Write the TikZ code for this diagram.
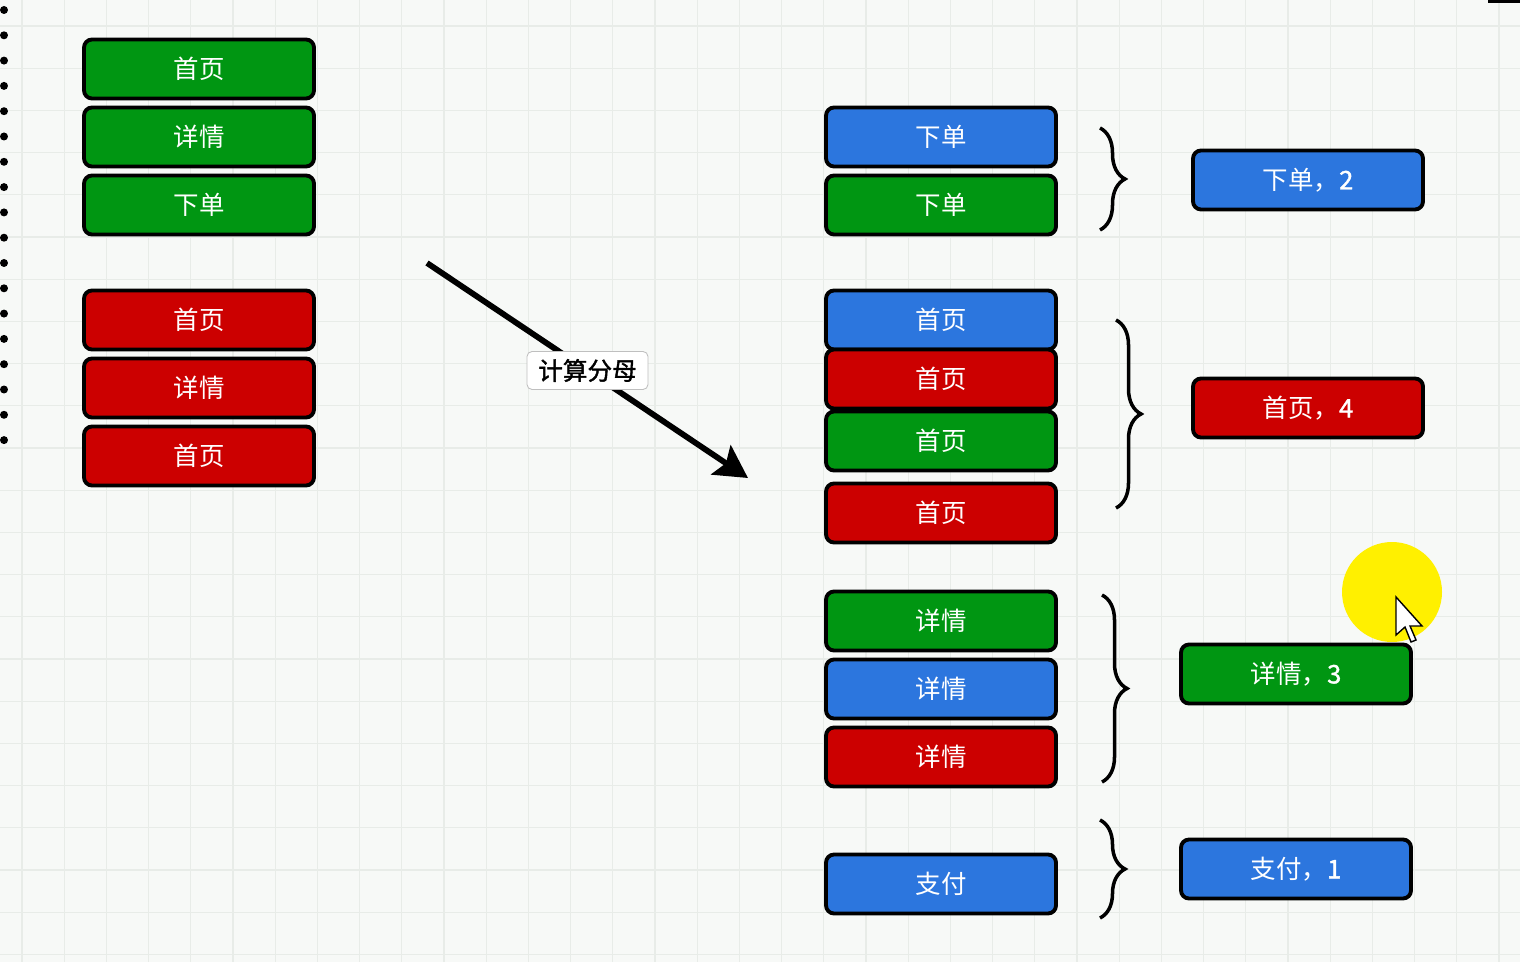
\documentclass[tikz,border=0pt]{standalone}
\usepackage{fontspec}
\newfontfamily\cjk{Noto Sans CJK SC}
\newfontfamily\cjkb[FakeBold=1.5]{Noto Sans CJK SC}
\usetikzlibrary{arrows.meta,decorations.pathreplacing}

\definecolor{boxgreen}{RGB}{0,150,18}
\definecolor{boxred}{RGB}{204,0,0}
\definecolor{boxblue}{RGB}{44,118,222}
\definecolor{paper}{RGB}{247,249,247}
\definecolor{gridgray}{RGB}{232,236,232}
\definecolor{hilite}{RGB}{255,240,0}

\tikzset{
  card/.style={draw=black, line width=2.2pt, rounded corners=0.16cm,
    minimum width=4.6cm, minimum height=1.18cm, inner sep=0pt,
    text=white, font=\cjk\fontsize{14.5}{17}\selectfont},
  gcard/.style={card, fill=boxgreen},
  rcard/.style={card, fill=boxred},
  bcard/.style={card, fill=boxblue},
  curly/.style={decorate, decoration={brace, amplitude=0.5cm}, line width=2pt},
  gridline/.style={draw=gridgray, line width=0.7pt},
}

\begin{document}
\begin{tikzpicture}[x=0.02cm, y=-0.02cm]
  % Paper and grid
  \useasboundingbox (0,0) rectangle (1520,962);
  \fill[paper] (0,0) rectangle (1520,962);
  \foreach \k in {0,...,35}
    \draw[gridline] ({22+42.2*\k},0) -- ({22+42.2*\k},962);
  \foreach \k in {0,...,22}
    \draw[gridline] (0,{26+42.2*\k}) -- (1520,{26+42.2*\k});

  % Dotted edge on the left
  \foreach \k in {0,...,17}
    \fill (4,{10+25.3*\k}) circle (0.08cm);
  \draw[line width=2pt] (1488,1) -- (1520,1);

  % Two sessions
  \node[gcard] (g1) at (199,69) {首页};
  \node[gcard] (g2) at (199,137) {详情};
  \node[gcard] (g3) at (199,205) {下单};

  \node[rcard] (r1) at (199,320) {首页};
  \node[rcard] (r2) at (199,388) {详情};
  \node[rcard] (r3) at (199,456) {首页};

  % Arrow with its label
  \coordinate (from) at (427,263);
  \coordinate (to) at (748,478);
  \draw[line width=3.3pt, -{Stealth[length=0.65cm, width=0.7cm, inset=0.12cm]}]
    (from) -- node[fill=white, draw=gray!50, line width=0.5pt, rounded corners=0.1cm,
      minimum width=2.42cm, minimum height=0.76cm, inner sep=0pt,
      font=\cjkb\fontsize{14}{16}\selectfont] (lbl) {计算分母} (to);

  % Grouped by page
  \node[bcard] (xd1) at (941,137) {下单};
  \node[gcard] (xd2) at (941,205) {下单};

  \node[bcard] (sy1) at (941,320) {首页};
  \node[rcard] (sy2) at (941,379) {首页};
  \node[gcard] (sy3) at (941,441) {首页};
  \node[rcard] (sy4) at (941,513) {首页};

  \node[gcard] (xq1) at (941,621) {详情};
  \node[bcard] (xq2) at (941,689) {详情};
  \node[rcard] (xq3) at (941,757) {详情};

  \node[bcard] (zf1) at (941,884) {支付};

  % Braces
  \coordinate (b1t) at (1100,128);  \coordinate (b1b) at (1100,230);
  \coordinate (b2t) at (1116,320);  \coordinate (b2b) at (1116,508);
  \coordinate (b3t) at (1102,595);  \coordinate (b3b) at (1102,782);
  \coordinate (b4t) at (1100,820);  \coordinate (b4b) at (1100,918);
  \draw[curly] (b1t) -- (b1b);
  \draw[curly] (b2t) -- (b2b);
  \draw[curly] (b3t) -- (b3b);
  \draw[curly] (b4t) -- (b4b);

  % Counts
  \node[bcard] (nxd) at (1308,180) {下单，{\cjkb 2}};
  \node[rcard] (nsy) at (1308,408) {首页，{\cjkb 4}};
  \node[gcard] (nxq) at (1296,674) {详情，{\cjkb 3}};
  \node[bcard] (nzf) at (1296,869) {支付，{\cjkb 1}};

  % Pointer highlight
  \fill[hilite] (1392,592) circle (1cm);
  \filldraw[fill=white, draw=black, line width=0.8pt] (1396,597) -- ++(0,38) -- ++(9,-8)
    -- ++(6,15) -- ++(5,-2) -- ++(-6,-14) -- ++(12,0) -- cycle;
\end{tikzpicture}
\end{document}
